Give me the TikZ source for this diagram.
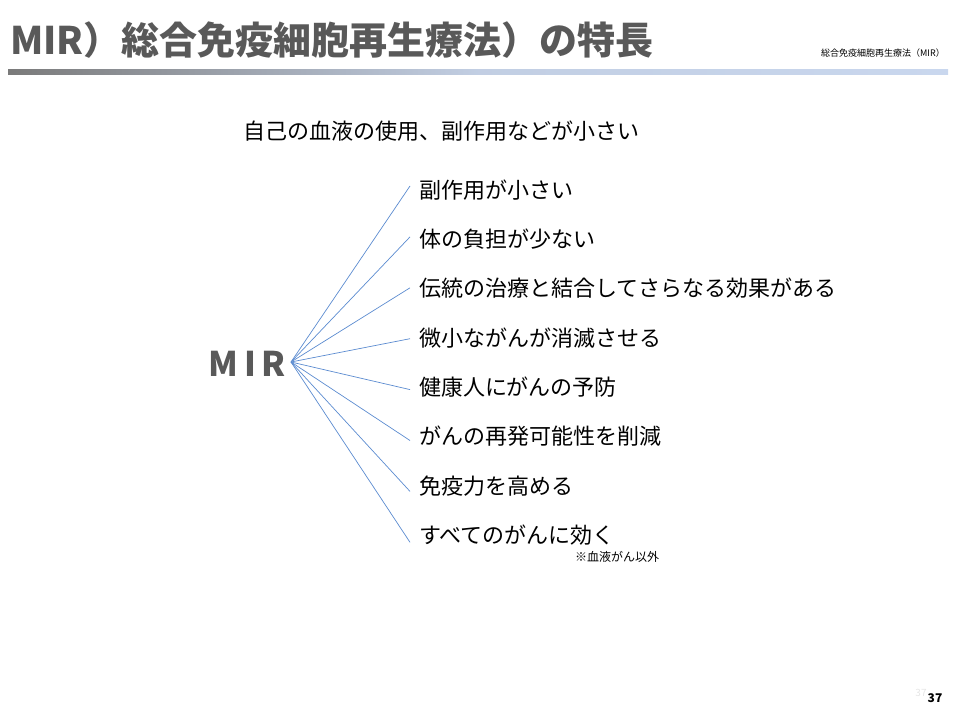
\documentclass[tikz,border=0pt]{standalone}
\usepackage{fontspec}
\setmainfont{Noto Sans CJK JP}
\usetikzlibrary{calc}
\definecolor{tgray}{HTML}{595959}
\definecolor{lblue}{HTML}{C9D7EE}
\definecolor{fan}{HTML}{5B8BD0}
\begin{document}
\begin{tikzpicture}[x=1pt,y=-1pt,
  item/.style={anchor=west,inner sep=0pt,font=\fontsize{22}{26}\selectfont},
  ray/.style={draw=fan,line width=0.7pt}]
\useasboundingbox (0,0) rectangle (960,720);
\node[anchor=west,inner sep=0pt,text=tgray,font=\fontsize{38}{44}\selectfont\bfseries] (title) at (10,40) {MIR）総合免疫細胞再生療法）の特長};
\node[anchor=east,inner sep=0pt,font=\fontsize{9}{10}\selectfont] (tr) at (945,53) {総合免疫細胞再生療法（MIR）};
\shade[left color=tgray!80,right color=lblue,middle color=lblue!90!gray] (8,69) rectangle (948,74);
\node[anchor=west,inner sep=0pt,font=\fontsize{22}{26}\selectfont] (sub) at (243,131) {自己の血液の使用、副作用などが小さい};
\node[anchor=east,inner sep=0pt,text=tgray,font=\fontsize{34}{40}\selectfont\bfseries] (mir) at (286,364) {M\,I\,R};
\coordinate (o) at (291,362);
\foreach \t [count=\i] in {副作用が小さい,体の負担が少ない,伝統の治療と結合してさらなる効果がある,微小ながんが消滅させる,健康人にがんの予防,がんの再発可能性を削減,免疫力を高める,すべてのがんに効く}{
  \pgfmathsetmacro{\yy}{190+(\i-1)*49.3}
  \pgfmathsetmacro{\ey}{\yy-4+(\i-1)*1.6}
  \node[item] (it\i) at (419,\yy) {\t};
  \coordinate (e\i) at (410,\ey);
  \draw[ray] (o) -- (e\i);
}
\node[anchor=west,inner sep=0pt,font=\fontsize{12}{13}\selectfont] (note) at (575,557) {※血液がん以外};
\node[inner sep=0pt,text=black!10,font=\fontsize{10}{12}\selectfont] (pg0) at (921,693) {37};
\node[inner sep=0pt,font=\fontsize{12}{14}\selectfont\bfseries] (pg) at (935,698) {37};
\end{tikzpicture}
\end{document}
